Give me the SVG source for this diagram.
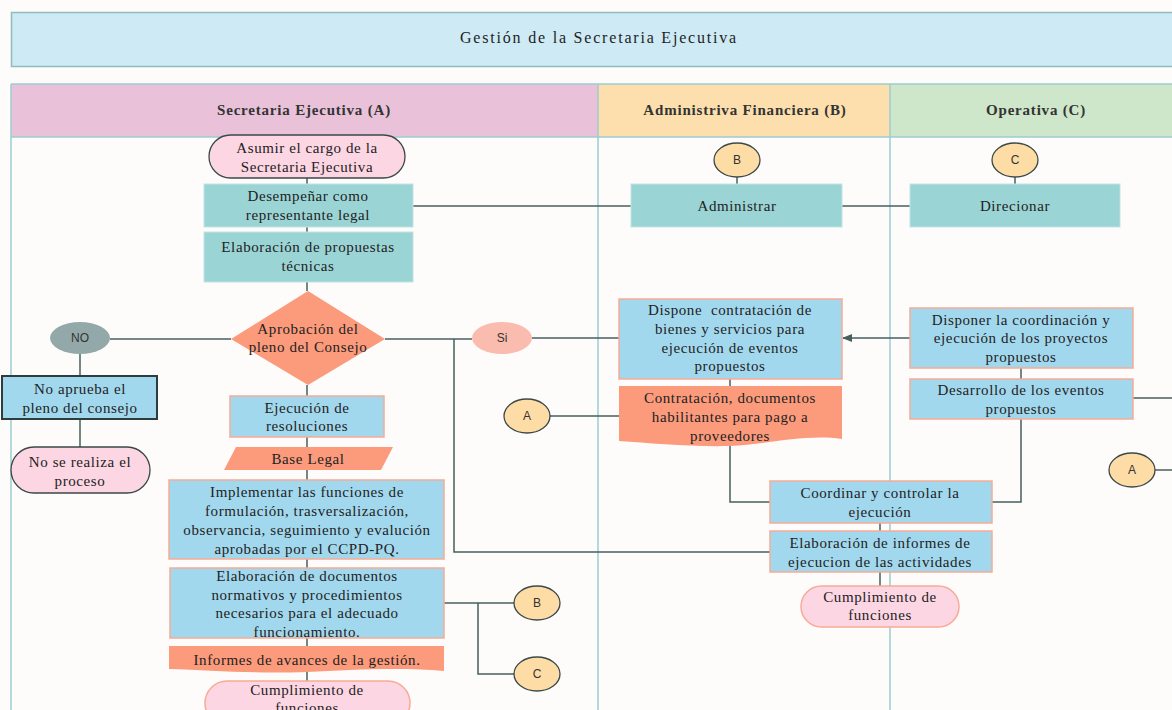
<svg xmlns="http://www.w3.org/2000/svg" width="1172" height="710" viewBox="0 0 1172 710">
  <defs>
    <style>
      .t { font-family: "Liberation Serif", "Times New Roman", serif; font-size: 15px; fill: #222; text-anchor: middle; letter-spacing: 0.6px; }
      .h { font-family: "Liberation Serif", "Times New Roman", serif; font-size: 15px; font-weight: bold; fill: #333; text-anchor: middle; letter-spacing: 0.8px; }
      .s { font-family: "Liberation Sans", Arial, sans-serif; font-size: 12px; fill: #333; text-anchor: middle; }
      .lane { stroke: #9ccdcf; stroke-width: 1.5; }
      .teal { fill: #9bd4d5; stroke: #bfe3e3; stroke-width: 1; }
      .blue { fill: #a2d8ee; stroke: #f7ab95; stroke-width: 1.5; }
      .salmon { fill: #fc9a7c; }
      .pink { fill: #fdd6e4; stroke: #f7ab95; stroke-width: 1.5; }
      .pinkd { fill: #fdd6e4; stroke: #3b4848; stroke-width: 1.3; }
      .conn { fill: #fddca6; stroke: #3b4848; stroke-width: 1.3; }
      .edge { fill: none; stroke: #465f5f; stroke-width: 1.5; }
    </style>
    <marker id="arrow" viewBox="0 0 10 10" refX="9" refY="5" markerWidth="7" markerHeight="7" orient="auto">
      <path d="M0,1 L10,5 L0,9 z" fill="#465f5f"/>
    </marker>
  </defs>

  <rect width="1172" height="710" fill="#fdfcfb"/>

  <!-- title -->
  <g id="title">
    <rect x="11.5" y="12.5" width="1170" height="54" fill="#ceeaf5" stroke="#8fbdbd" stroke-width="1.5"/>
    <text class="t" x="599" y="43" style="font-size:16px;letter-spacing:1.8px;fill:#1e1e1e">Gestión de la Secretaria Ejecutiva</text>
  </g>

  <!-- swimlanes -->
  <g id="lanes">
    <rect x="11" y="84" width="587" height="53" fill="#e9c2da"/>
    <rect x="598" y="84" width="292" height="53" fill="#fddfad"/>
    <rect x="890" y="84" width="290" height="53" fill="#cee6c9"/>
    <line class="lane" x1="11" y1="84" x2="1172" y2="84"/>
    <line class="lane" x1="11" y1="137" x2="1172" y2="137"/>
    <line class="lane" x1="11" y1="84" x2="11" y2="710"/>
    <line class="lane" x1="598" y1="84" x2="598" y2="710"/>
    <line class="lane" x1="890" y1="84" x2="890" y2="710"/>
    <text class="h" x="304" y="115">Secretaria Ejecutiva (A)</text>
    <text class="h" x="745" y="115">Administriva Financiera (B)</text>
    <text class="h" x="1036" y="115">Operativa (C)</text>
  </g>

  <!-- connectors -->
  <g id="connectors">
    <path class="edge" d="M307,178 V184"/>
    <path class="edge" d="M307,227 V232"/>
    <path class="edge" d="M307,282 V291"/>
    <path class="edge" d="M231,339 H110"/>
    <path class="edge" d="M80,354 V376"/>
    <path class="edge" d="M80,419 V447"/>
    <path class="edge" d="M307,385 V396"/>
    <path class="edge" d="M307,437 V447"/>
    <path class="edge" d="M307,470 V480"/>
    <path class="edge" d="M307,559 V568"/>
    <path class="edge" d="M307,638 V646"/>
    <path class="edge" d="M307,672 V681"/>
    <path class="edge" d="M444,603 H514"/>
    <path class="edge" d="M478,603 V674 H514"/>
    <path class="edge" d="M385,339 H472"/>
    <path class="edge" d="M532,338 H619"/>
    <path class="edge" d="M454,339 V552 H770"/>
    <path class="edge" d="M413,206 H631"/>
    <path class="edge" d="M737,177 V184"/>
    <path class="edge" d="M842,206 H910"/>
    <path class="edge" d="M1015,177 V184"/>
    <path class="edge" d="M910,338 H843" marker-end="url(#arrow)"/>
    <path class="edge" d="M1021,368 V379"/>
    <path class="edge" d="M1133,398 H1172"/>
    <path class="edge" d="M1021,419 V502 H992"/>
    <path class="edge" d="M730,379 V386"/>
    <path class="edge" d="M730,444 V502 H770"/>
    <path class="edge" d="M550,416 H619"/>
    <path class="edge" d="M880,523 V531"/>
    <path class="edge" d="M880,572 V586"/>
    <path class="edge" d="M1155,470 H1172"/>
  </g>

  <!-- Secretaria Ejecutiva lane -->
  <g id="asumir">
    <rect class="pinkd" x="209" y="135" width="196" height="43" rx="21.5"/>
    <text class="t" x="307" y="153">Asumir el cargo de la</text>
    <text class="t" x="307" y="172">Secretaria Ejecutiva</text>
  </g>
  <g id="desempenar">
    <rect class="teal" x="204" y="184" width="209" height="43"/>
    <text class="t" x="308" y="201">Desempeñar como</text>
    <text class="t" x="308" y="220">representante legal</text>
  </g>
  <g id="propuestas">
    <rect class="teal" x="204" y="232" width="209" height="50"/>
    <text class="t" x="308" y="252">Elaboración de propuestas</text>
    <text class="t" x="308" y="271">técnicas</text>
  </g>
  <g id="aprobacion">
    <polygon class="salmon" points="308,291 385,339 308,385 231,339"/>
    <text class="t" x="308" y="334">Aprobación del</text>
    <text class="t" x="308" y="352">pleno del Consejo</text>
  </g>
  <g id="no">
    <ellipse cx="80" cy="338" rx="30" ry="16" fill="#93a9a9"/>
    <text class="s" x="80" y="342">NO</text>
  </g>
  <g id="no-aprueba">
    <rect x="2" y="376" width="155" height="43" fill="#a2d8ee" stroke="#2f3c3c" stroke-width="2"/>
    <text class="t" x="80" y="394">No aprueba el</text>
    <text class="t" x="80" y="413">pleno del consejo</text>
  </g>
  <g id="no-realiza">
    <rect class="pinkd" x="11" y="447" width="139" height="46" rx="23"/>
    <text class="t" x="80" y="467">No se realiza el</text>
    <text class="t" x="80" y="486">proceso</text>
  </g>
  <g id="ejecucion">
    <rect class="blue" x="230" y="396" width="154" height="41"/>
    <text class="t" x="307" y="413">Ejecución de</text>
    <text class="t" x="307" y="431">resoluciones</text>
  </g>
  <g id="base-legal">
    <polygon class="salmon" points="236,447 393,447 381,470 224,470"/>
    <text class="t" x="308" y="464">Base Legal</text>
  </g>
  <g id="implementar">
    <rect class="blue" x="169" y="480" width="275" height="79"/>
    <text class="t" x="307" y="497">Implementar las funciones de</text>
    <text class="t" x="307" y="516">formulación, trasversalización,</text>
    <text class="t" x="307" y="535">observancia, seguimiento y evalución</text>
    <text class="t" x="307" y="554">aprobadas por el CCPD-PQ.</text>
  </g>
  <g id="documentos">
    <rect class="blue" x="170" y="568" width="274" height="70"/>
    <text class="t" x="307" y="581">Elaboración de documentos</text>
    <text class="t" x="307" y="600">normativos y procedimientos</text>
    <text class="t" x="307" y="618">necesarios para el adecuado</text>
    <text class="t" x="307" y="637">funcionamiento.</text>
  </g>
  <g id="informes">
    <path class="salmon" d="M169,646 H444 V671 C400,667 350,670 307,672 C250,674 210,670 169,669 Z"/>
    <text class="t" x="307" y="665">Informes de avances de la gestión.</text>
  </g>
  <g id="cumplimiento-a">
    <rect class="pink" x="205" y="681" width="205" height="44" rx="22"/>
    <text class="t" x="307" y="695">Cumplimiento de</text>
    <text class="t" x="307" y="713">funciones</text>
  </g>
  <g id="ref-b">
    <ellipse class="conn" cx="537" cy="603" rx="23" ry="17"/>
    <text class="s" x="537" y="607">B</text>
  </g>
  <g id="ref-c">
    <ellipse class="conn" cx="537" cy="674" rx="23" ry="17"/>
    <text class="s" x="537" y="678">C</text>
  </g>
  <g id="si">
    <ellipse cx="502" cy="338" rx="30" ry="16" fill="#fbbcb0"/>
    <text class="s" x="502" y="342">Si</text>
  </g>
  <g id="ref-a-left">
    <ellipse class="conn" cx="527" cy="416" rx="23" ry="17"/>
    <text class="s" x="527" y="420">A</text>
  </g>

  <!-- Administriva Financiera lane -->
  <g id="ref-b-top">
    <ellipse class="conn" cx="737" cy="160" rx="23" ry="17"/>
    <text class="s" x="737" y="164">B</text>
  </g>
  <g id="administrar">
    <rect class="teal" x="631" y="184" width="211" height="43"/>
    <text class="t" x="737" y="211">Administrar</text>
  </g>
  <g id="dispone">
    <rect class="blue" x="619" y="299" width="223" height="80"/>
    <text class="t" x="730" y="315" xml:space="preserve">Dispone  contratación de</text>
    <text class="t" x="730" y="334">bienes y servicios para</text>
    <text class="t" x="730" y="353">ejecución de eventos</text>
    <text class="t" x="730" y="371">propuestos</text>
  </g>
  <g id="contratacion">
    <path class="salmon" d="M619,386 H842 V439 C805,434 770,444 730,446 C690,447 650,443 619,441 Z"/>
    <text class="t" x="730" y="403">Contratación, documentos</text>
    <text class="t" x="730" y="422">habilitantes para pago a</text>
    <text class="t" x="730" y="441">proveedores</text>
  </g>
  <g id="coordinar">
    <rect class="blue" x="770" y="481" width="222" height="42"/>
    <text class="t" x="880" y="498">Coordinar y controlar la</text>
    <text class="t" x="880" y="517">ejecución</text>
  </g>
  <g id="informes-ejecucion">
    <rect class="blue" x="770" y="531" width="222" height="41"/>
    <text class="t" x="880" y="548">Elaboración de informes de</text>
    <text class="t" x="880" y="567">ejecucion de las actividades</text>
  </g>
  <g id="cumplimiento-b">
    <rect class="pink" x="801" y="586" width="158" height="41" rx="20.5"/>
    <text class="t" x="880" y="602">Cumplimiento de</text>
    <text class="t" x="880" y="620">funciones</text>
  </g>

  <!-- Operativa lane -->
  <g id="ref-c-top">
    <ellipse class="conn" cx="1015" cy="160" rx="23" ry="17"/>
    <text class="s" x="1015" y="164">C</text>
  </g>
  <g id="direcionar">
    <rect class="teal" x="910" y="184" width="210" height="43"/>
    <text class="t" x="1015" y="211">Direcionar</text>
  </g>
  <g id="disponer">
    <rect class="blue" x="910" y="308" width="223" height="60"/>
    <text class="t" x="1021" y="325">Disponer la coordinación y</text>
    <text class="t" x="1021" y="343">ejecución de los proyectos</text>
    <text class="t" x="1021" y="362">propuestos</text>
  </g>
  <g id="desarrollo">
    <rect class="blue" x="910" y="379" width="223" height="40"/>
    <text class="t" x="1021" y="395">Desarrollo de los eventos</text>
    <text class="t" x="1021" y="414">propuestos</text>
  </g>
  <g id="ref-a-right">
    <ellipse class="conn" cx="1132" cy="470" rx="23" ry="17"/>
    <text class="s" x="1132" y="474">A</text>
  </g>
</svg>
